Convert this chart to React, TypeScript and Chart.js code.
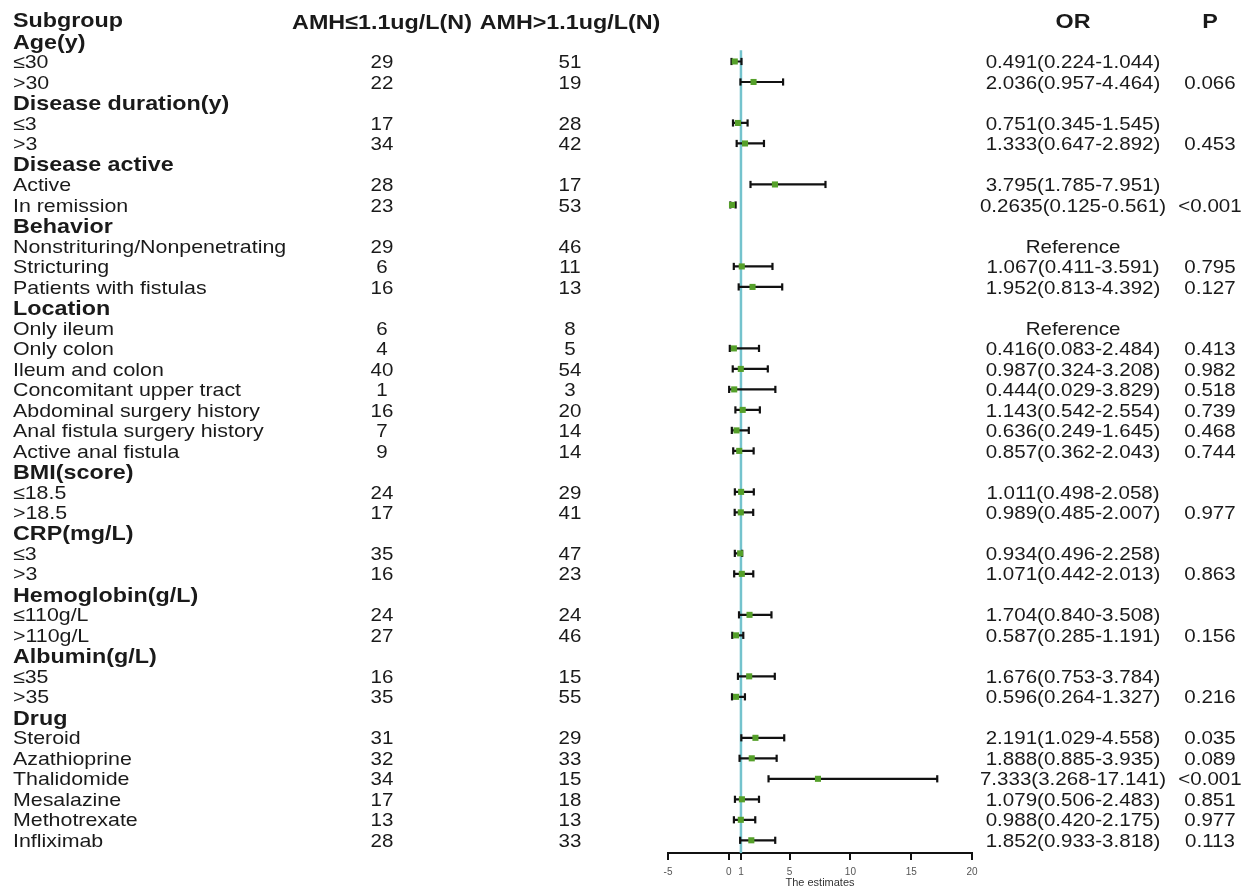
import React, { useEffect, useRef } from 'react';
import { Chart, registerables } from 'chart.js';

Chart.register(...registerables);

// ---------- DATA ----------
const columnHeaders = ['Subgroup', 'AMH≤1.1ug/L(N)', 'AMH>1.1ug/L(N)', 'OR', 'P'];

const rowLabels = [
  'Age(y)', '≤30', '>30',
  'Disease duration(y)', '≤3', '>3',
  'Disease active', 'Active', 'In remission',
  'Behavior', 'Nonstrituring/Nonpenetrating', 'Stricturing', 'Patients with fistulas',
  'Location', 'Only ileum', 'Only colon', 'Ileum and colon', 'Concomitant upper tract',
  'Abdominal surgery history', 'Anal fistula surgery history', 'Active anal fistula',
  'BMI(score)', '≤18.5', '>18.5',
  'CRP(mg/L)', '≤3', '>3',
  'Hemoglobin(g/L)', '≤110g/L', '>110g/L',
  'Albumin(g/L)', '≤35', '>35',
  'Drug', 'Steroid', 'Azathioprine', 'Thalidomide', 'Mesalazine', 'Methotrexate', 'Infliximab',
];

const isGroupRow = [
  true, false, false,
  true, false, false,
  true, false, false,
  true, false, false, false,
  true, false, false, false, false, false, false, false,
  true, false, false,
  true, false, false,
  true, false, false,
  true, false, false,
  true, false, false, false, false, false, false,
];

const nLowAMH = [
  null, 29, 22,
  null, 17, 34,
  null, 28, 23,
  null, 29, 6, 16,
  null, 6, 4, 40, 1, 16, 7, 9,
  null, 24, 17,
  null, 35, 16,
  null, 24, 27,
  null, 16, 35,
  null, 31, 32, 34, 17, 13, 28,
];

const nHighAMH = [
  null, 51, 19,
  null, 28, 42,
  null, 17, 53,
  null, 46, 11, 13,
  null, 8, 5, 54, 3, 20, 14, 14,
  null, 29, 41,
  null, 47, 23,
  null, 24, 46,
  null, 15, 55,
  null, 29, 33, 15, 18, 13, 33,
];

const orEstimate = [
  null, 0.491, 2.036,
  null, 0.751, 1.333,
  null, 3.795, 0.2635,
  null, null, 1.067, 1.952,
  null, null, 0.416, 0.987, 0.444, 1.143, 0.636, 0.857,
  null, 1.011, 0.989,
  null, 0.934, 1.071,
  null, 1.704, 0.587,
  null, 1.676, 0.596,
  null, 2.191, 1.888, 7.333, 1.079, 0.988, 1.852,
];

const ciLower = [
  null, 0.224, 0.957,
  null, 0.345, 0.647,
  null, 1.785, 0.125,
  null, null, 0.411, 0.813,
  null, null, 0.083, 0.324, 0.029, 0.542, 0.249, 0.362,
  null, 0.498, 0.485,
  null, 0.496, 0.442,
  null, 0.840, 0.285,
  null, 0.753, 0.264,
  null, 1.029, 0.885, 3.268, 0.506, 0.420, 0.933,
];

const ciUpper = [
  null, 1.044, 4.464,
  null, 1.545, 2.892,
  null, 7.951, 0.561,
  null, null, 3.591, 4.392,
  null, null, 2.484, 3.208, 3.829, 2.554, 1.645, 2.043,
  null, 2.058, 2.007,
  null, 1.1, 2.013,
  null, 3.508, 1.191,
  null, 3.784, 1.327,
  null, 4.558, 3.935, 17.141, 2.483, 2.175, 3.818,
];

const orLabels = [
  '', '0.491(0.224-1.044)', '2.036(0.957-4.464)',
  '', '0.751(0.345-1.545)', '1.333(0.647-2.892)',
  '', '3.795(1.785-7.951)', '0.2635(0.125-0.561)',
  '', 'Reference', '1.067(0.411-3.591)', '1.952(0.813-4.392)',
  '', 'Reference', '0.416(0.083-2.484)', '0.987(0.324-3.208)', '0.444(0.029-3.829)',
  '1.143(0.542-2.554)', '0.636(0.249-1.645)', '0.857(0.362-2.043)',
  '', '1.011(0.498-2.058)', '0.989(0.485-2.007)',
  '', '0.934(0.496-2.258)', '1.071(0.442-2.013)',
  '', '1.704(0.840-3.508)', '0.587(0.285-1.191)',
  '', '1.676(0.753-3.784)', '0.596(0.264-1.327)',
  '', '2.191(1.029-4.558)', '1.888(0.885-3.935)', '7.333(3.268-17.141)',
  '1.079(0.506-2.483)', '0.988(0.420-2.175)', '1.852(0.933-3.818)',
];

const pLabels = [
  '', '', '0.066',
  '', '', '0.453',
  '', '', '<0.001',
  '', '', '0.795', '0.127',
  '', '', '0.413', '0.982', '0.518', '0.739', '0.468', '0.744',
  '', '', '0.977',
  '', '', '0.863',
  '', '', '0.156',
  '', '', '0.216',
  '', '0.035', '0.089', '<0.001', '0.851', '0.977', '0.113',
];

const xTickValues = [-5, 0, 1, 5, 10, 15, 20];
const referenceValue = 1;

// ---------- LAYOUT CONSTANTS ----------
const W = 1250;
const H = 891;
const FONT = '"Liberation Sans", Arial, Helvetica, sans-serif';
const STRETCH = 1.11;
const LABEL_STRETCH = 1.155;
const REG_SIZE = 18.5;
const BOLD_SIZE = 21;
const Y_MIN = -1;
const Y_MAX = 40.62;

const colSubgroupX = 13;
const colLowX = 382;
const colHighX = 570;
const colOrX = 1073;
const colPX = 1210;

function drawText(
  ctx: CanvasRenderingContext2D,
  text: string,
  x: number,
  y: number,
  align: CanvasTextAlign,
  bold: boolean,
  stretch: number = STRETCH,
) {
  if (!text) return;
  const size = bold ? BOLD_SIZE : REG_SIZE;
  ctx.save();
  ctx.font = `${bold ? 'bold ' : ''}${size}px ${FONT}`;
  ctx.fillStyle = '#1a1a1a';
  ctx.textAlign = align;
  ctx.textBaseline = 'alphabetic';
  ctx.translate(x, y + size * 0.358);
  ctx.scale(stretch, 1);
  ctx.fillText(text, 0, 0);
  ctx.restore();
}

const tablePlugin = {
  id: 'forestTable',
  afterDraw(chart: any) {
    const ctx = chart.ctx as CanvasRenderingContext2D;
    const y = chart.scales.y;
    const hy = y.getPixelForValue(0);
    drawText(ctx, columnHeaders[0], colSubgroupX, hy - 1.5, 'left', true);
    drawText(ctx, columnHeaders[1], colLowX, hy + 0.5, 'center', true);
    drawText(ctx, columnHeaders[2], colHighX, hy + 0.5, 'center', true);
    drawText(ctx, columnHeaders[3], colOrX, hy - 0.5, 'center', true);
    drawText(ctx, columnHeaders[4], colPX, hy - 0.5, 'center', true);
    rowLabels.forEach((label, i) => {
      const py = y.getPixelForValue(i + 1);
      const bold = isGroupRow[i];
      drawText(ctx, label, colSubgroupX, py, 'left', bold, bold ? STRETCH : LABEL_STRETCH);
      if (nLowAMH[i] !== null) drawText(ctx, String(nLowAMH[i]), colLowX, py, 'center', false);
      if (nHighAMH[i] !== null) drawText(ctx, String(nHighAMH[i]), colHighX, py, 'center', false);
      drawText(ctx, orLabels[i], colOrX, py, 'center', false);
      drawText(ctx, pLabels[i], colPX, py, 'center', false);
    });
  },
};

export default function App() {
  const ref = useRef<HTMLCanvasElement>(null);

  useEffect(() => {
    const whiskerData: { x: number; y: number }[] = [];
    const pointData: { x: number; y: number }[] = [];
    rowLabels.forEach((_, i) => {
      const lo = ciLower[i];
      const hi = ciUpper[i];
      const est = orEstimate[i];
      if (lo !== null && hi !== null) {
        whiskerData.push({ x: lo, y: i + 1 }, { x: hi, y: i + 1 }, { x: NaN, y: NaN });
      }
      if (est !== null) pointData.push({ x: est, y: i + 1 });
    });

    const chart = new Chart(ref.current as HTMLCanvasElement, {
      type: 'scatter',
      data: {
        datasets: [
          {
            label: 'estimate',
            data: pointData,
            pointStyle: 'rect',
            pointRadius: 4.3,
            pointBackgroundColor: '#55a02a',
            pointBorderWidth: 0,
            borderWidth: 0,
            order: 0,
          },
          {
            label: 'ci',
            data: whiskerData,
            showLine: true,
            spanGaps: false,
            borderColor: '#111111',
            borderWidth: 2.2,
            pointStyle: 'line',
            rotation: 90,
            pointRadius: 3.6,
            pointBorderWidth: 2.2,
            pointBorderColor: '#111111',
            order: 1,
          } as any,
          {
            label: 'reference',
            data: [
              { x: referenceValue, y: 1.45 },
              { x: referenceValue, y: Y_MAX },
            ],
            showLine: true,
            borderColor: '#74c3cd',
            borderWidth: 2.5,
            pointRadius: 0,
            order: 2,
          } as any,
        ],
      },
      options: {
        animation: false,
        responsive: false,
        devicePixelRatio: 1,
        layout: { autoPadding: false, padding: { left: 668, right: W - 972, top: 0, bottom: 0 } },
        plugins: {
          legend: { display: false },
          tooltip: { enabled: false },
          title: { display: false },
        },
        scales: {
          x: {
            type: 'linear',
            position: 'bottom',
            min: -5,
            max: 20,
            afterBuildTicks: (s: any) => {
              s.ticks = xTickValues.map((v) => ({ value: v }));
            },
            afterFit: (s: any) => {
              s.height = H - 853;
            },
            grid: {
              drawOnChartArea: false,
              drawTicks: true,
              tickLength: 7,
              color: '#111111',
              lineWidth: 2,
            },
            border: { display: true, color: '#111111', width: 2 },
            ticks: {
              autoSkip: false,
              maxRotation: 0,
              padding: 6,
              color: '#555555',
              font: { family: FONT, size: 10 },
              callback: (v: any) => String(v),
            },
            title: {
              display: true,
              text: 'The estimates',
              color: '#333333',
              font: { family: FONT, size: 11 },
              padding: { top: 0, bottom: 1 },
            },
          },
          y: {
            type: 'linear',
            min: Y_MIN,
            max: Y_MAX,
            reverse: true,
            display: false,
          },
        },
      } as any,
      plugins: [tablePlugin],
    });
    return () => chart.destroy();
  }, []);

  return (
    <div style={{ position: 'absolute', left: 0, top: 0, width: W, height: H, background: '#ffffff' }}>
      <canvas ref={ref} width={W} height={H} style={{ display: 'block', width: W, height: H }} />
    </div>
  );
}
